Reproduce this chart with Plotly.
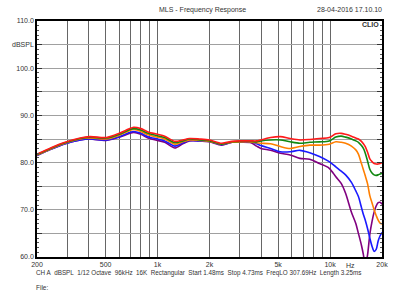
import plotly.graph_objects as go

freq_hz = [200, 240, 285, 356, 404, 505, 600, 680, 727, 800, 880, 1000, 1100, 1260, 1400, 1530,
           1750, 2000, 2350, 2700, 3000, 3480, 3750,
           3970, 4520, 5150, 5870, 6680, 7620, 8680, 9890, 10800, 11600, 12300, 13300, 14100,
           14600, 15200, 15600, 16000, 16500, 17000, 17500, 18000, 18500, 19000, 19500, 20000]

red = [81.8, 83.1, 84.2, 85.2, 85.5, 85.3, 86.2, 87.1, 87.5, 87.2, 86.5, 86.0, 85.6, 84.5, 84.8, 85.1,
       85.0, 84.8, 84.1, 84.5, 84.6, 84.6, 84.6,
       84.8, 85.3, 85.5, 85.1, 84.8, 84.9, 85.1, 85.3, 86.1, 86.2, 86.0, 85.6, 85.2,
       85.0, 84.5, 84.0, 83.4, 82.2, 80.8, 80.2, 79.8, 79.7, 79.7, 79.8, 80.0]
green = [81.7, 83.0, 84.1, 85.1, 85.4, 85.2, 86.0, 86.9, 87.2, 86.9, 86.2, 85.7, 85.3, 84.2, 84.6, 85.0,
         84.8, 84.6, 83.9, 84.4, 84.5, 84.5, 84.4,
         84.6, 84.8, 84.8, 84.4, 84.1, 84.3, 84.4, 84.6, 85.4, 85.6, 85.4, 85.0, 84.6,
         84.3, 83.6, 83.0, 82.0, 80.3, 78.6, 77.8, 77.4, 77.3, 77.4, 77.6, 77.7]
orange = [81.6, 82.9, 84.0, 85.0, 85.2, 85.0, 85.8, 86.7, 87.0, 86.6, 85.9, 85.4, 85.0, 83.9, 84.4, 84.8,
          84.7, 84.5, 83.9, 84.3, 84.4, 84.4, 84.2,
          84.1, 84.0, 83.4, 83.0, 83.4, 83.7, 83.7, 83.9, 84.4, 84.3, 84.1, 83.5, 82.7,
          81.8, 79.8, 78.5, 77.2, 75.5, 73.0, 71.5, 70.0, 68.8, 67.8, 67.2, 67.0]
blue = [81.5, 82.8, 83.9, 84.8, 85.0, 84.8, 85.5, 86.3, 86.6, 86.2, 85.5, 85.0, 84.6, 83.5, 84.2, 84.7,
        84.6, 84.5, 83.8, 84.3, 84.4, 84.4, 84.0,
        83.6, 83.0, 82.3, 82.3, 82.6, 82.1, 81.3, 80.2, 79.1, 78.2, 77.4, 75.8, 74.0,
        72.8, 70.5, 69.0, 67.8, 66.0, 64.0, 62.3, 61.2, 61.6, 63.4, 64.5, 65.2]
purple = [81.5, 82.8, 83.9, 84.8, 85.0, 84.7, 85.4, 86.1, 86.4, 86.0, 85.2, 84.7, 84.3, 83.1, 84.0, 84.6,
          84.6, 84.4, 83.7, 84.3, 84.3, 84.2, 83.5,
          83.0, 82.6, 82.0, 81.6, 80.9, 80.7, 79.8, 78.8, 77.0, 75.6, 73.5, 69.5, 67.1,
          65.0, 62.5, 60.5, 58.0, 60.5, 64.8, 67.5, 69.5, 70.8, 71.5, 71.6, 71.2]

series = [("purple", purple, "#800080"), ("blue", blue, "#1a1aff"), ("orange", orange, "#ff7f00"),
          ("green", green, "#118811"), ("red", red, "#ff1a1a")]

x_grid = [200, 300, 400, 500, 600, 700, 800, 900, 1000, 2000, 3000, 4000, 5000, 6000, 7000, 8000,
          9000, 10000, 20000]
x_labels = ["200", "", "", "500", "", "", "", "", "1k", "2k", "", "", "5k", "", "", "", "", "10k", "20k"]
y_grid = [60, 65, 70, 75, 80, 85, 90, 95, 100, 105, 110]
y_labels = ["60.0", "", "70.0", "", "80.0", "", "90.0", "", "100.0", "dBSPL", "110.0"]

fig = go.Figure()
for name, vals, col in series:
    fig.add_trace(go.Scatter(x=freq_hz, y=vals, mode="lines", name=name,
                             line=dict(color=col, width=1.6, shape="spline", smoothing=0.8)))

font = "Liberation Sans, Arial, sans-serif"
fig.update_layout(
    width=400, height=300,
    margin=dict(l=31, r=16, t=21, b=43),
    paper_bgcolor="white", plot_bgcolor="white",
    showlegend=False,
    font=dict(family=font, size=7, color="#333333"),
    xaxis=dict(type="log", range=[2.30103, 4.30103], tickvals=x_grid, ticktext=x_labels,
               showgrid=True, gridcolor="#666666", gridwidth=1,
               showline=True, linecolor="black", linewidth=1.5, mirror=True,
               ticks="", tickfont=dict(size=7, family=font, color="#333333"), zeroline=False),
    yaxis=dict(range=[60, 110], tickvals=y_grid, ticktext=y_labels,
               showgrid=True, gridcolor="#a0a0a0", gridwidth=1,
               showline=True, linecolor="black", linewidth=1.5, mirror="ticks",
               ticks="inside", ticklen=5, tickcolor="#333333",
               minor=dict(dtick=1, ticks="inside", ticklen=2, tickcolor="#555555", showgrid=False),
               tickfont=dict(size=7, family=font, color="#333333"), zeroline=False),
)

def px_x(X):
    return (X - 31) / 353.0

def px_y(Y):
    return (257 - Y) / 236.0

ann = [
    dict(text="MLS - Frequency Response", x=px_x(200), y=px_y(10), xanchor="center", size=7),
    dict(text="28-04-2016 17.10.10", x=px_x(386), y=px_y(10), xanchor="right", size=7),
    dict(text="<b>CLIO</b>", x=px_x(383), y=px_y(25), xanchor="right", size=7),
    dict(text="Hz", x=px_x(352), y=px_y(265), xanchor="center", size=7),
    dict(text="CH A\u00a0 dBSPL\u00a0 1/12 Octave\u00a0 96kHz\u00a0 16K\u00a0 Rectangular\u00a0 Start 1.48ms\u00a0 Stop 4.73ms\u00a0 FreqLO 307.69Hz\u00a0 Length 3.25ms",
         x=px_x(28), y=px_y(273), xanchor="left", size=6.3),
    dict(text="File:", x=px_x(28), y=px_y(287), xanchor="left", size=6.5),
]
for a in ann:
    fig.add_annotation(text=a["text"], x=a["x"], y=a["y"], xref="paper", yref="paper",
                       xanchor=a["xanchor"], yanchor="middle", showarrow=False,
                       font=dict(size=a["size"], family=font, color="#333333"))

fig.write_html("out.html")
